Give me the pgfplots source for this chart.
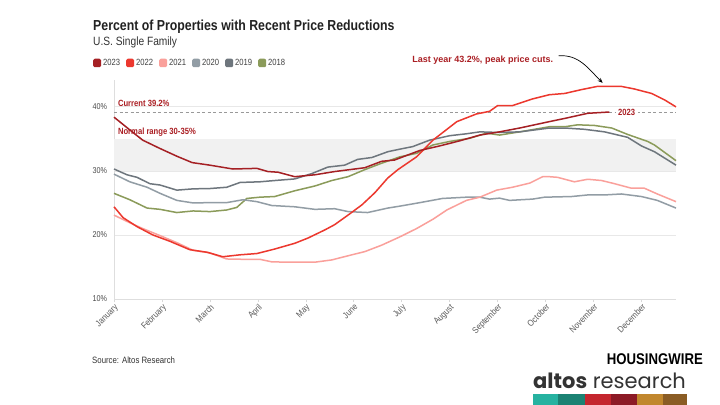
\documentclass[border=0pt]{standalone}
\usepackage{pgfplots}
\pgfplotsset{compat=1.18}
\usepackage{fontspec}
\usetikzlibrary{arrows.meta}
\setmainfont{Liberation Sans}
\newfontfamily\cond[FakeStretch=0.85]{Liberation Sans}
\newfontfamily\logofont{Poppins}

% series colours
\definecolor{c2023}{RGB}{165,32,36}
\definecolor{c2022}{RGB}{236,56,46}
\definecolor{c2021}{RGB}{250,160,155}
\definecolor{c2020}{RGB}{146,157,165}
\definecolor{c2019}{RGB}{110,118,125}
\definecolor{c2018}{RGB}{139,155,90}
\definecolor{annred}{RGB}{170,30,35}
\definecolor{titlegray}{RGB}{34,34,34}
% logo bar colours
\definecolor{lb1}{RGB}{38,178,160}
\definecolor{lb2}{RGB}{27,130,115}
\definecolor{lb3}{RGB}{196,38,46}
\definecolor{lb4}{RGB}{140,26,38}
\definecolor{lb5}{RGB}{193,135,45}
\definecolor{lb6}{RGB}{138,92,36}

\begin{document}
\begin{tikzpicture}
\path[use as bounding box, fill=white] (0,0) rectangle (720bp,405bp);

\begin{axis}[
  at={(114bp,106bp)}, anchor=south west,
  scale only axis, width=562bp, height=219bp,
  xmin=0, xmax=11.72, ymin=10, ymax=44.2,
  clip=false,
  axis x line*=bottom, axis y line*=left,
  axis line style={draw=black!13, line width=0.8bp},
  xtick={0,1,2,3,4,5,6,7,8,9,10,11},
  xticklabels={January,February,March,April,May,June,July,August,September,October,November,December},
  xticklabel style={rotate=45, anchor=north east, font=\cond\fontsize{9bp}{10bp}\selectfont, text=black!65, inner sep=0.5bp},
  x tick style={draw=black!15, line width=0.6bp},
  major tick length=3.5bp,
  tick align=outside,
  ytick={10,20,30,40},
  yticklabels={10\%,20\%,30\%,40\%},
  yticklabel style={font=\cond\fontsize{8.5bp}{9bp}\selectfont, text=black!70},
  y tick style={draw=none},
  ymajorgrids, grid style={draw=black!9, line width=0.8bp},
  legend columns=6,
  reverse legend,
  legend style={at={(-0.0374,1.0776)}, anchor=west, draw=none, fill=none,
    font=\cond\fontsize{9bp}{10bp}\selectfont, text=black!75, inner sep=0pt,
    /tikz/every even column/.append style={column sep=4bp}},
  legend image code/.code={\fill[#1, rounded corners=1bp] (0bp,-3.5bp) rectangle (6.5bp,3.5bp);},
  every axis plot/.append style={line width=1.5bp, line join=round},
]

% normal range band and current level
\fill[black!5.5] (axis cs:0,30) rectangle (axis cs:11.72,35);
\draw[black!40, line width=0.7bp, dash pattern=on 3bp off 2.5bp] (axis cs:0,39.2) -- (axis cs:11.72,39.2);

\addplot[color=c2018] coordinates {
(0,26.5)(0.33,25.5)(0.69,24.2)(0.96,24.0)(1.31,23.5)(1.65,23.75)(2.00,23.65)(2.35,23.9)(2.56,24.3)(2.77,25.7)(3.04,25.9)(3.35,26.0)(3.77,26.9)(4.19,27.65)(4.54,28.5)(4.88,29.1)(5.23,30.2)(5.58,31.2)(5.85,31.9)(5.96,32.2)(6.31,32.75)(6.65,34.05)(7.00,34.6)(7.42,35.1)(7.77,35.9)(8.04,35.6)(8.46,36.1)(9.08,36.9)(9.40,36.9)(9.67,37.2)(10.02,37.1)(10.38,36.7)(10.71,35.7)(11.13,34.6)(11.27,34.05)(11.72,31.6)
};
\addlegendentry{2018}

\addplot[color=c2019] coordinates {
(0,30.3)(0.27,29.4)(0.48,29.0)(0.75,28.0)(0.96,27.8)(1.31,27.0)(1.65,27.2)(2.00,27.25)(2.35,27.45)(2.63,28.2)(3.04,28.3)(3.35,28.5)(3.77,28.75)(4.13,29.6)(4.46,30.6)(4.81,30.9)(5.08,31.8)(5.38,32.1)(5.71,33.0)(5.96,33.4)(6.23,33.8)(6.58,34.8)(7.00,35.5)(7.35,35.8)(7.63,36.1)(8.04,36.0)(8.46,36.1)(9.08,36.7)(9.40,36.7)(9.81,36.5)(10.23,36.1)(10.71,35.25)(11.00,33.9)(11.27,33.0)(11.72,30.9)
};
\addlegendentry{2019}

\addplot[color=c2020] coordinates {
(0,29.5)(0.33,28.3)(0.69,27.45)(0.96,26.5)(1.31,25.4)(1.65,25.0)(2.00,25.05)(2.35,25.05)(2.69,25.5)(2.98,25.2)(3.29,24.6)(3.77,24.4)(4.19,24.0)(4.60,24.1)(4.88,23.65)(5.29,23.5)(5.71,24.2)(5.96,24.5)(6.38,25.05)(6.85,25.7)(7.35,25.9)(7.63,25.9)(7.83,25.6)(8.04,25.75)(8.25,25.4)(8.73,25.6)(8.98,25.9)(9.54,26.0)(9.88,26.25)(10.23,26.25)(10.58,26.4)(11.00,26.0)(11.33,25.4)(11.72,24.2)
};
\addlegendentry{2020}

\addplot[color=c2021] coordinates {
(0,23.1)(0.33,21.9)(0.60,21.0)(0.96,19.9)(1.31,18.8)(1.65,17.6)(2.00,17.2)(2.35,16.25)(2.69,16.2)(3.04,16.2)(3.29,15.8)(3.63,15.75)(4.19,15.75)(4.54,16.1)(4.96,16.9)(5.23,17.4)(5.58,18.4)(5.96,19.7)(6.31,21.0)(6.65,22.45)(6.94,23.9)(7.35,25.4)(7.63,25.9)(7.98,27.0)(8.31,27.45)(8.67,28.1)(8.94,29.1)(9.08,29.1)(9.25,29.0)(9.60,28.3)(9.88,28.7)(10.17,28.5)(10.44,28.0)(10.79,27.3)(11.06,27.3)(11.33,26.4)(11.72,25.2)
};
\addlegendentry{2021}

\addplot[color=c2022] coordinates {
(0,24.4)(0.19,22.7)(0.48,21.3)(0.81,20.0)(1.17,19.0)(1.58,17.7)(1.94,17.3)(2.27,16.6)(2.63,16.9)(2.98,17.1)(3.35,17.8)(3.77,18.7)(4.04,19.5)(4.40,20.8)(4.60,21.6)(4.88,23.1)(5.17,24.7)(5.44,26.6)(5.71,28.9)(5.92,30.2)(6.31,32.2)(6.65,34.8)(7.15,37.7)(7.56,38.9)(7.83,39.3)(8.00,40.2)(8.31,40.2)(8.73,41.25)(9.08,41.9)(9.40,42.1)(9.75,42.7)(10.08,43.2)(10.58,43.2)(10.85,42.8)(11.21,42.1)(11.48,41.1)(11.72,40.0)
};
\addlegendentry{2022}

\addplot[color=c2023] coordinates {
(0,38.4)(0.33,36.4)(0.60,34.8)(0.96,33.5)(1.31,32.3)(1.63,31.3)(2.00,30.9)(2.48,30.3)(2.98,30.4)(3.21,29.9)(3.42,29.8)(3.77,29.1)(4.19,29.4)(4.60,29.9)(5.02,30.3)(5.23,30.5)(5.58,31.5)(5.85,31.7)(6.06,32.3)(6.38,33.2)(6.79,33.9)(7.21,34.7)(7.63,35.6)(8.04,36.1)(8.46,36.7)(9.08,37.7)(9.40,38.2)(9.88,39.0)(10.33,39.2)
};
\addlegendentry{2023}

% annotations
\node[anchor=west, text=annred, font=\cond\bfseries\fontsize{9bp}{10bp}\selectfont, inner sep=0pt] at (axis cs:0.08,40.47) {Current 39.2\%};
\node[anchor=west, text=annred, font=\cond\bfseries\fontsize{9bp}{10bp}\selectfont, inner sep=0pt] at (axis cs:0.08,36.1) {Normal range 30-35\%};
\node[fill=white, text=annred, font=\cond\bfseries\fontsize{9bp}{10bp}\selectfont, inner xsep=2.5bp, inner ysep=1bp] at (axis cs:10.69,39.2) {2023};
\node[text=annred, font=\bfseries\fontsize{9bp}{10bp}\selectfont] at (axis cs:7.69,47.3) {Last year 43.2\%, peak price cuts.};
\draw[-{Stealth[length=5bp,width=4bp]}, line width=0.7bp] (axis cs:9.27,47.97) to[out=5, in=135] (axis cs:10.19,43.75);
\end{axis}

% titles, source and branding
\node[anchor=base west, inner sep=0pt, text=titlegray, font=\cond\bfseries\fontsize{14.5bp}{17bp}\selectfont] at (93bp,374.3bp) {Percent of Properties with Recent Price Reductions};
\node[anchor=base west, inner sep=0pt, text=black!80, font=\cond\fontsize{12bp}{14bp}\selectfont] at (93bp,359.7bp) {U.S. Single Family};
\node[anchor=base west, inner sep=0pt, text=black!80, font=\cond\fontsize{9.2bp}{11bp}\selectfont] at (92bp,41bp) {Source: Altos Research};
\node[anchor=base east, inner sep=0pt, text=black, font=\cond\bfseries\fontsize{15.5bp}{17bp}\selectfont] at (703bp,40bp) {HOUSINGWIRE};
\node[anchor=base west, inner sep=0pt, text=black!80, font=\logofont\fontsize{21bp}{23bp}\selectfont] at (533bp,16.7bp) {\textbf{altos} research};
\fill[lb1] (533bp,0) rectangle (558bp,11bp);
\fill[lb2] (558bp,0) rectangle (585bp,11bp);
\fill[lb3] (585bp,0) rectangle (611bp,11bp);
\fill[lb4] (611bp,0) rectangle (637bp,11bp);
\fill[lb5] (637bp,0) rectangle (663bp,11bp);
\fill[lb6] (663bp,0) rectangle (687bp,11bp);
\end{tikzpicture}
\end{document}
